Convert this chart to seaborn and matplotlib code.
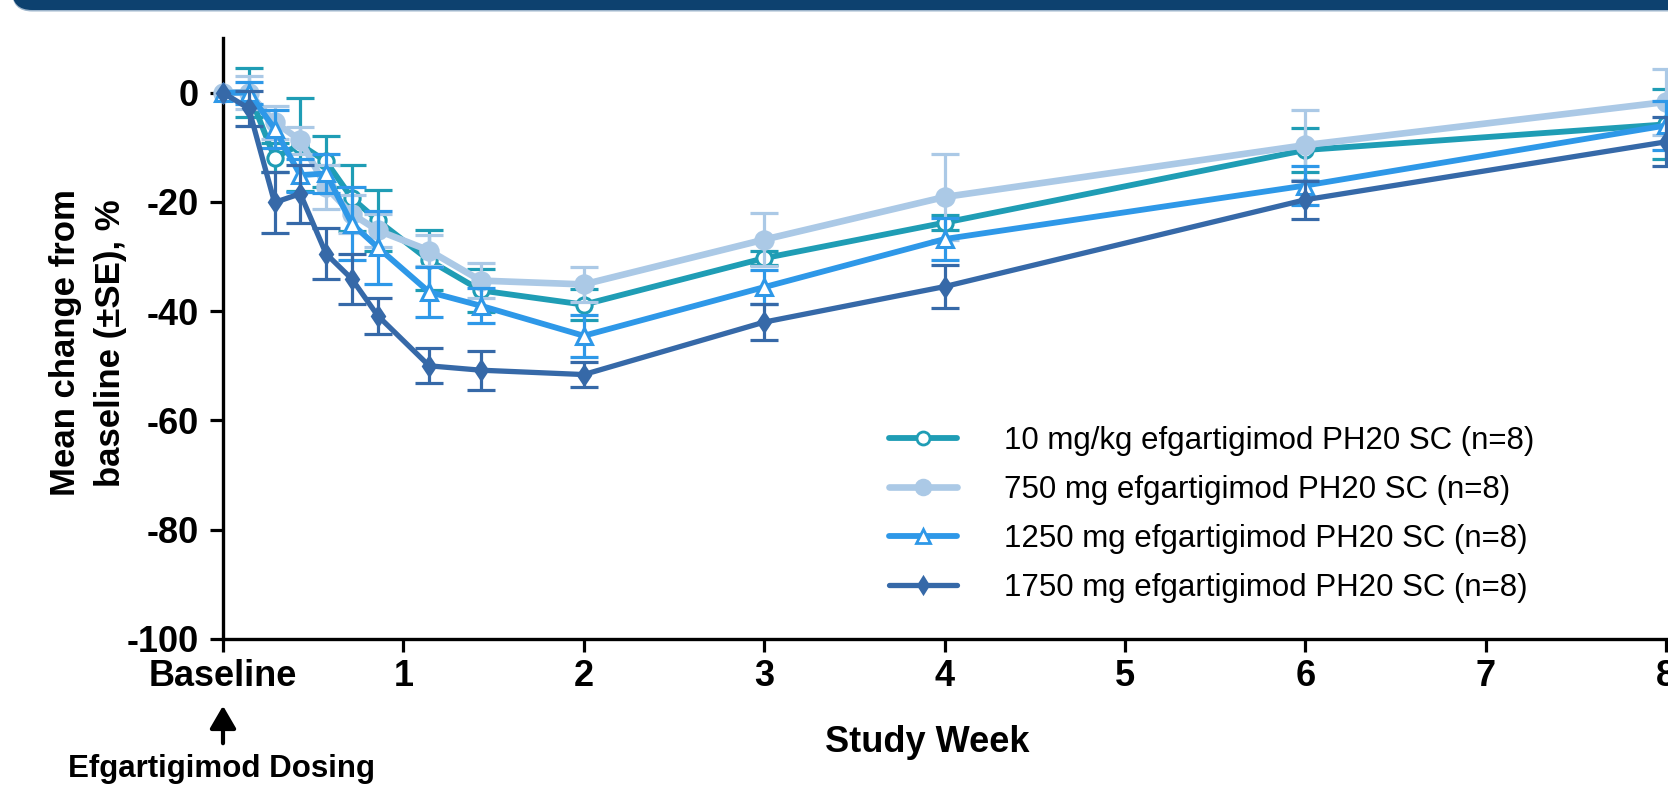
import numpy as np
import pandas as pd
import matplotlib
matplotlib.use("Agg")
import matplotlib.pyplot as plt
import matplotlib.patches as mpatches
from matplotlib.transforms import IdentityTransform
from matplotlib.font_manager import FontProperties
from matplotlib.lines import Line2D
import seaborn as sns

# ---------------- data ----------------
study_days = [0, 1, 2, 3, 4, 5, 6, 8, 10, 14, 21, 28, 42, 56]
week_ticks = [0, 1, 2, 3, 4, 5, 6, 7, 8]
week_labels = ["Baseline", "1", "2", "3", "4", "5", "6", "7", "8"]
y_ticks = [0, -20, -40, -60, -80, -100]

series_labels = [
    "10 mg/kg efgartigimod PH20 SC (n=8)",
    "750 mg efgartigimod PH20 SC (n=8)",
    "1250 mg efgartigimod PH20 SC (n=8)",
    "1750 mg efgartigimod PH20 SC (n=8)",
]

teal_mean = [0, 0, -11.9, -9.5, -12.6, -19.3, -23.4, -30.7, -36.2, -38.8, -30.3, -23.8, -10.5, -5.8]
teal_se = [0, 4.5, 2.7, 8.5, 4.6, 6.0, 5.6, 5.5, 4.0, 2.8, 1.3, 1.4, 4.0, 6.4]

light_mean = [0, 0, -5.4, -8.7, -17.3, -22.2, -25.2, -28.9, -34.4, -35.1, -26.9, -19.1, -9.6, -1.7]
light_se = [0, 3.0, 3.0, 2.5, 4.0, 3.5, 3.0, 2.9, 3.2, 3.2, 4.9, 7.8, 6.4, 6.0]

mid_mean = [0, 0, -6.6, -15.1, -14.8, -24.0, -28.3, -36.5, -39.0, -44.5, -35.6, -26.8, -17.0, -6.0]
mid_se = [0, 2.0, 3.5, 3.0, 3.5, 6.7, 6.7, 4.5, 3.2, 3.8, 3.1, 3.9, 3.5, 4.5]

dark_mean = [0, -2.9, -20.1, -18.5, -29.5, -34.1, -40.8, -50.0, -50.8, -51.6, -42.0, -35.5, -19.6, -9.0]
dark_se = [0, 3.2, 5.5, 5.3, 4.7, 4.6, 3.3, 3.2, 3.6, 2.3, 3.3, 4.0, 3.5, 4.5]

colors = ["#1f9db5", "#abc9e6", "#2e98e8", "#3669a8"]

# ---------------- figure ----------------
sns.set_theme(style="ticks")
plt.rcParams["font.family"] = ["Liberation Sans", "DejaVu Sans"]
plt.rcParams["text.color"] = "black"
plt.rcParams["axes.labelcolor"] = "black"
plt.rcParams["xtick.color"] = "black"
plt.rcParams["ytick.color"] = "black"

W, H, DPI = 1668, 797, 100
fig = plt.figure(figsize=(W / DPI, H / DPI), dpi=DPI)

# banner at top
fig.patches.append(mpatches.FancyBboxPatch(
    (12, H - 11.5), 1800, 80, boxstyle="round,pad=0,rounding_size=20",
    transform=IdentityTransform(), facecolor="#9fb6cc", edgecolor="none", zorder=0))
fig.patches.append(mpatches.FancyBboxPatch(
    (12, H - 10), 1800, 80, boxstyle="round,pad=0,rounding_size=20",
    transform=IdentityTransform(), facecolor="#0d416f", edgecolor="none", zorder=1))

px_per_week = 180.4
x_max = 8.3
ax_left, ax_top, ax_bottom = 223, 38, 639
ax = fig.add_axes([ax_left / W, (H - ax_bottom) / H, x_max * px_per_week / W,
                   (ax_bottom - ax_top) / H])

weeks = np.array(study_days) / 7.0
means = [teal_mean, light_mean, mid_mean, dark_mean]
ses = [teal_se, light_se, mid_se, dark_se]
markers = ["o", "o", "^", "d"]
mfcs = ["white", colors[1], "white", colors[3]]
msizes = [11, 12.5, 11.5, 9.5]
lws = [4.2, 4.8, 4.2, 3.8]

handles = []
for i in range(4):
    c = colors[i]
    df = pd.DataFrame({"week": weeks, "change": means[i]})
    ax.errorbar(weeks[1:], means[i][1:], yerr=ses[i][1:], fmt="none", ecolor=c,
                elinewidth=2.3, capsize=10, capthick=2.3, zorder=3 + i)
    sns.lineplot(data=df, x="week", y="change", ax=ax, color=c, linewidth=lws[i],
                 marker=markers[i], markersize=msizes[i], markerfacecolor=mfcs[i],
                 markeredgecolor=c, markeredgewidth=2.2, zorder=3 + i,
                 clip_on=False, legend=False)
    handles.append(Line2D([], [], color=c, linewidth=lws[i], marker=markers[i],
                          markersize=msizes[i] * 0.85, markerfacecolor=mfcs[i],
                          markeredgecolor=c, markeredgewidth=2.0))

ax.set_xlim(0, x_max)
ax.set_ylim(-100, 10)
ax.set_xticks(week_ticks)
ax.set_xticklabels(week_labels, fontsize=26, fontweight="bold", color="black")
ax.set_yticks(y_ticks)
ax.set_yticklabels([str(v) for v in y_ticks], fontsize=26, fontweight="bold",
                   color="black")
ax.set_xlabel("")
ax.set_ylabel("")
ax.tick_params(axis="both", length=9.4, width=2.3, color="black", direction="out")
ax.tick_params(axis="y", pad=8)
ax.tick_params(axis="x", pad=5)
for side in ["top", "right"]:
    ax.spines[side].set_visible(False)
for side in ["left", "bottom"]:
    ax.spines[side].set_linewidth(2.4)
    ax.spines[side].set_color("black")

# legend
leg_prop = FontProperties(family=["Liberation Sans", "DejaVu Sans"], size=22.5)
leg = ax.legend(handles, series_labels, loc="upper left",
                bbox_to_anchor=(889 / W, 1 - 426 / H), bbox_transform=fig.transFigure,
                frameon=False, prop=leg_prop, handlelength=2.18, handletextpad=1.5,
                labelspacing=0.61, borderpad=0, borderaxespad=0)
for t in leg.get_texts():
    t.set_color("black")

# labels
fig.text(927 / W, (H - 742) / H, "Study Week", ha="center", va="center",
         fontsize=26, fontweight="bold", color="black")
fig.text(88 / W, (H - 343) / H, "Mean change from\nbaseline (±SE), %", rotation=90,
         ha="center", va="center", multialignment="center", fontsize=25,
         fontweight="bold", linespacing=1.45, color="black")

# dosing arrow + label
fig.add_artist(mpatches.FancyArrowPatch(
    (223, H - 746), (223, H - 703), transform=IdentityTransform(),
    arrowstyle="-|>,head_length=0.55,head_width=0.32", mutation_scale=25,
    linewidth=3, color="black"))
fig.text(221 / W, (H - 769) / H, "Efgartigimod Dosing", ha="center", va="center",
         fontsize=22.5, fontweight="bold", color="black")

fig.savefig("out.png", dpi=DPI)
